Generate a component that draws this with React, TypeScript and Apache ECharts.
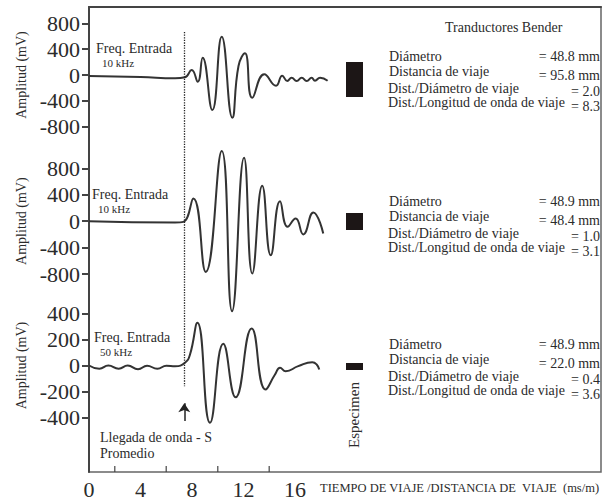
import React, { useEffect, useRef } from "react";
import * as echarts from "echarts";

const FONT = '"Liberation Serif", "Times New Roman", serif';
const INK = "#2b2b2b";

// Time axis (ms/m)
const X_MAX = 39.77;
const xTickLabels = [0, 4, 8, 12, 16];
const xTickMarks = [2, 6, 10, 14];
const arrivalTime = 7.4;

// Panel 1 – 10 kHz, long path
const p1Time = [0, 4, 6.67, 7.44, 7.96, 8.43, 8.81, 9.56, 10.29, 11.11, 11.59, 12.09, 12.66, 13.59, 14.5, 14.98, 15.37, 15.71, 16.1, 16.49, 16.88, 17.26, 17.52, 17.91, 18.5];
const p1Amp = [-15, -31, -51, -36, 77, -104, 268, -541, 592, -661, 139, 336, -351, 11, -166, -11, -93, -42, -93, -42, -93, -42, -88, -42, -88];

// Panel 2 – 10 kHz, medium path
const p2Time = [0, 6.67, 7.31, 8.09, 9.05, 10.29, 11.09, 12.02, 12.66, 13.43, 14.09, 14.81, 15.4, 16.02, 16.61, 17.39, 18.16];
const p2Amp = [0, -20, -11, 344, -768, 1061, -1363, 959, -792, 535, -515, 303, -86, 41, -201, 132, -186];

// Panel 3 – 50 kHz, specimen
const p3Time = [0, 0.8, 1.5, 2.3, 3.0, 3.8, 4.5, 5.3, 6.0, 6.67, 7.44, 7.83, 8.4, 9.38, 10.41, 11.37, 12.61, 13.69, 14.42, 14.81, 15.25, 16.22, 17.31, 17.65, 17.85];
const p3Amp = [0, -25, 0, -25, 0, -28, -2, -25, -2, -5, 21, 84, 327, -439, 166, -243, 283, -184, -69, -18, -44, -5, 25, 8, -31];

// Info blocks
const freqLabels = ["10 kHz", "10 kHz", "50 kHz"];
const diametro = ["48.8", "48.9", "48.9"];
const distancia = ["95.8", "48.4", "22.0"];
const ratioDiam = ["2.0", "1.0", "0.4"];
const ratioWave = ["8.3", "3.1", "3.6"];

const zip = (a: number[], b: number[]) => a.map((v, i) => [v, b[i]]);

export default function App() {
  const ref = useRef<HTMLDivElement>(null);
  useEffect(() => {
    if (!ref.current) return;
    const chart = echarts.init(ref.current, null, { renderer: "svg" });

    const panels = [
      { top: 23.3, height: 103.4, min: -800, max: 800, interval: 400 },
      { top: 168.3, height: 105.7, min: -800, max: 800, interval: 400 },
      { top: 313.3, height: 104.4, min: -400, max: 400, interval: 200 },
    ];
    const left = 89;
    const width = 513;

    const grids: any[] = panels.map((p) => ({ left, width, top: p.top, height: p.height }));
    grids.push({ left, width, top: 7, height: 466, show: true, borderColor: "#666", borderWidth: 1.5, backgroundColor: "transparent" });

    const xAxes: any[] = panels.map((_, i) => ({ gridIndex: i, type: "value", min: 0, max: X_MAX, show: false }));
    xAxes.push({
      gridIndex: 3,
      type: "value",
      min: 0,
      max: X_MAX,
      interval: 2,
      splitLine: { show: false },
      axisTick: { show: false },
      axisLine: { show: true, lineStyle: { color: "#444", width: 2 } },
      axisLabel: {
        fontFamily: FONT,
        fontSize: 22,
        color: INK,
        margin: 6,
        formatter: (v: number) => (xTickLabels.includes(v) ? String(v) : ""),
      },
    });

    const yAxes: any[] = panels.map((p, i) => ({
      gridIndex: i,
      type: "value",
      min: p.min,
      max: p.max,
      interval: p.interval,
      name: "Amplitud (mV)",
      nameLocation: "middle",
      nameGap: 50,
      nameTextStyle: { fontFamily: FONT, fontSize: 14, color: INK },
      splitLine: { show: false },
      axisLine: { show: false },
      axisTick: { show: true, length: 7, lineStyle: { color: "#444", width: 2 } },
      axisLabel: { fontFamily: FONT, fontSize: 22, color: INK, margin: 9 },
    }));
    yAxes.push({
      gridIndex: 3,
      type: "value",
      min: 0,
      max: 466,
      inverse: true,
      show: true,
      splitLine: { show: false },
      axisTick: { show: false },
      axisLabel: { show: false },
      axisLine: { show: true, lineStyle: { color: "#444", width: 2 } },
    });

    const waveStyle = { color: "#333", width: 2 };
    const series: any[] = [
      { data: zip(p1Time, p1Amp) },
      { data: zip(p2Time, p2Amp) },
      { data: zip(p3Time, p3Amp) },
    ].map((s, i) => ({
      type: "line",
      xAxisIndex: i,
      yAxisIndex: i,
      data: s.data,
      smooth: 0.5,
      symbol: "none",
      clip: false,
      lineStyle: waveStyle,
    }));

    series.push({
      type: "scatter",
      xAxisIndex: 3,
      yAxisIndex: 3,
      data: xTickMarks.map((t) => [t, 466]),
      symbol: "rect",
      symbolSize: [1.5, 6],
      symbolOffset: [0, -3],
      itemStyle: { color: "#444" },
      silent: true,
      markLine: {
        silent: true,
        symbol: ["none", "none"],
        label: { show: false },
        lineStyle: { type: "dotted", color: "#222", width: 1.3 },
        data: [[{ coord: [arrivalTime, 25] }, { coord: [arrivalTime, 380] }]],
      },
    });
    series.push({
      type: "scatter",
      xAxisIndex: 3,
      yAxisIndex: 3,
      data: [],
      markLine: {
        silent: true,
        symbol: ["none", "arrow"],
        symbolSize: 9,
        label: { show: false },
        lineStyle: { type: "solid", color: "#222", width: 1.5 },
        data: [[{ coord: [arrivalTime, 415] }, { coord: [arrivalTime, 397] }]],
      },
    });

    const txt = (x: number, y: number, text: string, size: number, align = "left", extra: any = {}) => ({
      type: "text",
      x,
      y,
      style: { text, fontFamily: FONT, fontSize: size, fill: INK, align, verticalAlign: "middle" },
      ...extra,
    });

    const graphic: any[] = [];
    const freqPos = [
      { x: 96, y: 48 },
      { x: 92, y: 194 },
      { x: 94, y: 337 },
    ];
    freqPos.forEach((p, i) => {
      graphic.push(txt(p.x, p.y, "Freq. Entrada", 14));
      graphic.push(txt(p.x + 6, p.y + 15, freqLabels[i], 11));
    });

    graphic.push(txt(445, 27, "Tranductores Bender", 14));

    const blockTop = [56, 201, 344];
    const labelOff = [0, 15, 32, 46];
    const valueOff = [0, 19, 35, 50];
    const rects = [
      { y: 62, h: 35 },
      { y: 213, h: 17 },
      { y: 363, h: 7 },
    ];
    blockTop.forEach((top, i) => {
      const labels = ["Diámetro", "Distancia de viaje", "Dist./Diámetro de viaje", "Dist./Longitud de onda de viaje"];
      const values = [`= ${diametro[i]} mm`, `= ${distancia[i]} mm`, `= ${ratioDiam[i]}`, `= ${ratioWave[i]}`];
      labels.forEach((l, k) => graphic.push(txt(k < 2 ? 389 : 388, top + labelOff[k], l, 14)));
      values.forEach((v, k) => graphic.push(txt(600, top + valueOff[k], v, 14, "right")));
      graphic.push({ type: "rect", shape: { x: 346, y: rects[i].y, width: 17, height: rects[i].h }, style: { fill: "#1c1616" } });
    });

    graphic.push(txt(354, 415, "Especimen", 15, "center", { rotation: Math.PI / 2 }));
    graphic.push(txt(100, 437, "Llegada de onda - S", 14));
    graphic.push(txt(100, 453, "Promedio", 14));
    graphic.push(txt(320, 488, "TIEMPO DE VIAJE /DISTANCIA DE  VIAJE  (ms/m)", 12.5));

    chart.setOption({
      animation: false,
      backgroundColor: "#fff",
      grid: grids,
      xAxis: xAxes,
      yAxis: yAxes,
      series,
      graphic,
    });
    return () => chart.dispose();
  }, []);

  return <div ref={ref} style={{ width: 604, height: 500, position: "absolute", left: 0, top: 0 }} />;
}
